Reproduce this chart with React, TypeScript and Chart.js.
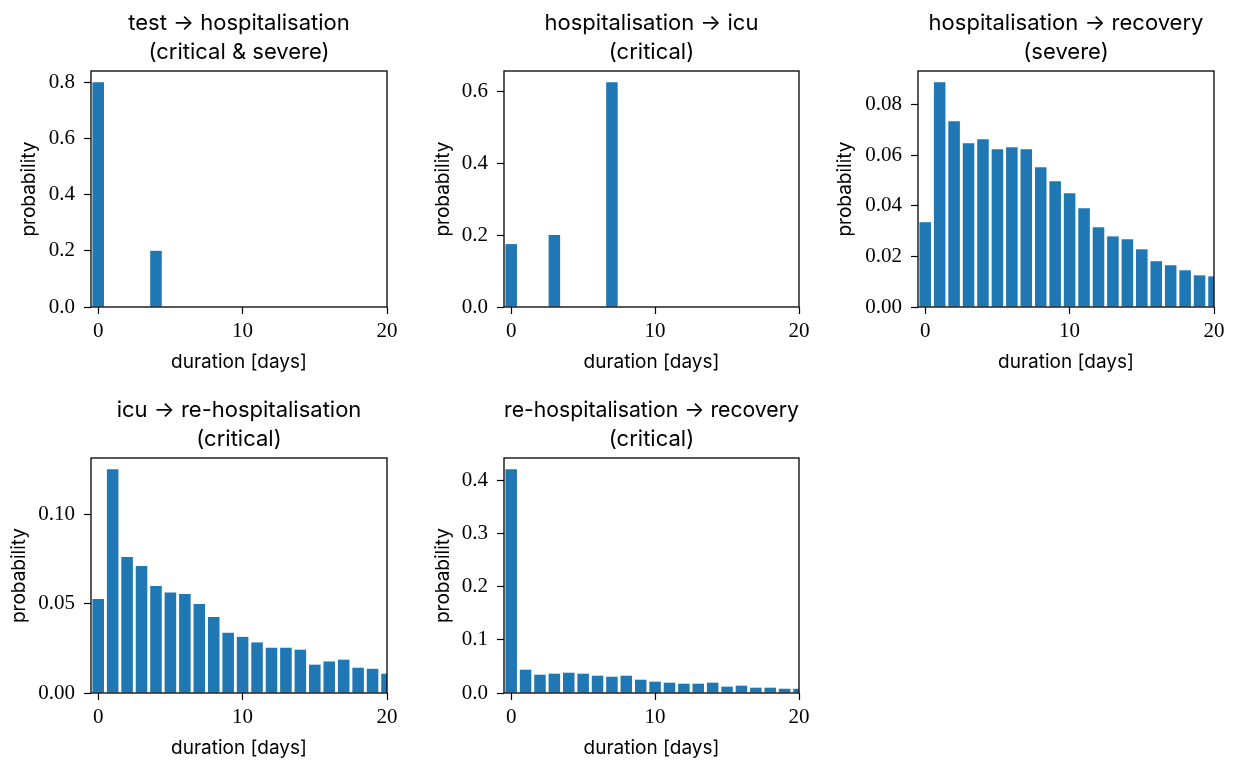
import React, { useEffect, useRef } from "react";
import { Chart, registerables } from "chart.js";

Chart.register(...registerables);

// ---------- data ----------
const days = [0, 1, 2, 3, 4, 5, 6, 7, 8, 9, 10, 11, 12, 13, 14, 15, 16, 17, 18, 19, 20];

const testToHospitalisation = [
  0.8, 0, 0, 0, 0.2, 0, 0, 0, 0, 0, 0, 0, 0, 0, 0, 0, 0, 0, 0, 0, 0,
];
const hospitalisationToIcu = [
  0.175, 0, 0, 0.2, 0, 0, 0, 0.625, 0, 0, 0, 0, 0, 0, 0, 0, 0, 0, 0, 0, 0,
];
const hospitalisationToRecovery = [
  0.0335, 0.0888, 0.0734, 0.0647, 0.0663, 0.0623, 0.0631, 0.0623, 0.0552, 0.0497, 0.0449,
  0.039, 0.0315, 0.0279, 0.0268, 0.0228, 0.0181, 0.0165, 0.0145, 0.0125, 0.0121,
];
const icuToRehospitalisation = [
  0.0528, 0.1256, 0.0763, 0.0713, 0.0601, 0.0564, 0.0556, 0.05, 0.0427, 0.0338, 0.0315,
  0.0284, 0.0254, 0.0254, 0.0243, 0.0159, 0.0177, 0.0187, 0.0142, 0.0136, 0.0108,
];
const rehospitalisationToRecovery = [
  0.4206, 0.0438, 0.0344, 0.0363, 0.0381, 0.0363, 0.0325, 0.0306, 0.0325, 0.025, 0.0213,
  0.0194, 0.0175, 0.0175, 0.0194, 0.0119, 0.0138, 0.01, 0.01, 0.008, 0.008,
];

const panelTitles = [
  ["test \u2192 hospitalisation", "(critical & severe)"],
  ["hospitalisation \u2192 icu", "(critical)"],
  ["hospitalisation \u2192 recovery", "(severe)"],
  ["icu \u2192 re-hospitalisation", "(critical)"],
  ["re-hospitalisation \u2192 recovery", "(critical)"],
];
const panelValues = [
  testToHospitalisation,
  hospitalisationToIcu,
  hospitalisationToRecovery,
  icuToRehospitalisation,
  rehospitalisationToRecovery,
];
const yTickSteps = [0.2, 0.2, 0.02, 0.05, 0.1];
const yTickDecimals = [1, 1, 2, 2, 1];
const xTickValues = [0, 10, 20];
const xLabel = "duration [days]";
const yLabel = "probability";

// ---------- layout (axes boxes in page pixels) ----------
const boxes = [
  [91, 71, 387, 307],
  [504, 71, 799, 307],
  [918, 71, 1214, 307],
  [91, 458, 387, 693],
  [504, 458, 799, 693],
];
const yAxisWidths = [77, 76, 88, 87, 76];

const SANS = "Inter, 'Open Sans', sans-serif";
const SERIF = "'Liberation Serif', 'DejaVu Serif', serif";
const BLUE = "#1f77b4";
const TOP_H = 71;
const X_H = 70;
const RIGHT_PAD = 30;

const framePlugin = {
  id: "frame",
  afterDatasetsDraw(chart: any) {
    const { ctx, chartArea } = chart;
    ctx.save();
    ctx.strokeStyle = "#000";
    ctx.lineWidth = 1.3;
    ctx.strokeRect(chartArea.left, chartArea.top, chartArea.right - chartArea.left, chartArea.bottom - chartArea.top);
    ctx.restore();
  },
};

function Panel({ idx }: { idx: number }) {
  const ref = useRef<HTMLCanvasElement | null>(null);
  const [L, T, R, B] = boxes[idx];
  const yW = yAxisWidths[idx];
  const left = L - yW;
  const top = T - TOP_H;
  const width = yW + (R - L) + RIGHT_PAD;
  const height = TOP_H + (B - T) + X_H;

  useEffect(() => {
    const vals = panelValues[idx];
    const ymax = Math.max(...vals) * 1.05;
    const chart = new Chart(ref.current as HTMLCanvasElement, {
      type: "bar",
      data: {
        datasets: [
          {
            data: days.map((d, i) => ({ x: d, y: vals[i] })),
            backgroundColor: BLUE,
            borderWidth: 0,
            barPercentage: 0.8,
            categoryPercentage: 1,
          } as any,
        ],
      },
      options: {
        animation: false,
        responsive: false,
        maintainAspectRatio: false,
        events: [],
        layout: { padding: { left: 0, right: RIGHT_PAD, top: 0, bottom: 0 } },
        plugins: {
          legend: { display: false },
          tooltip: { enabled: false },
          title: {
            display: true,
            text: panelTitles[idx],
            fullSize: false,
            color: "#000",
            font: { family: SANS, size: 22, weight: "normal", lineHeight: 1.35 },
            padding: { top: 8.2, bottom: 3.4 },
          },
        },
        scales: {
          x: {
            type: "linear",
            min: -0.5,
            max: 20,
            offset: false,
            grid: {
              offset: false,
              display: true,
              drawOnChartArea: false,
              drawTicks: true,
              tickLength: 7,
              tickColor: "#000",
              tickWidth: 1.2,
            },
            border: { display: false },
            ticks: {
              color: "#000",
              padding: 5,
              font: { family: SERIF, size: 21 },
              callback: (v: any) => String(v),
            },
            title: {
              display: true,
              text: xLabel,
              color: "#000",
              font: { family: SANS, size: 19, lineHeight: 1.2 },
              padding: { top: 0, bottom: 3.5 },
            },
            afterBuildTicks: (s: any) => {
              s.ticks = xTickValues.map((v) => ({ value: v }));
            },
            afterFit: (s: any) => {
              s.height = X_H;
              s.paddingLeft = 0;
              s.paddingRight = 0;
            },
          } as any,
          y: {
            type: "linear",
            min: 0,
            max: ymax,
            grid: {
              display: true,
              drawOnChartArea: false,
              drawTicks: true,
              tickLength: 7,
              tickColor: "#000",
              tickWidth: 1.2,
            },
            border: { display: false },
            ticks: {
              color: "#000",
              padding: 9,
              stepSize: yTickSteps[idx],
              includeBounds: false,
              font: { family: SERIF, size: 21 },
              callback: (v: any) => Number(v).toFixed(yTickDecimals[idx]),
            },
            title: {
              display: true,
              text: yLabel,
              color: "#000",
              font: { family: SANS, size: 19, lineHeight: 1.2 },
              padding: { top: 3.5, bottom: 0 },
            },
            afterFit: (s: any) => {
              s.width = yW;
              s.paddingTop = 0;
              s.paddingBottom = 0;
            },
          } as any,
        },
      },
      plugins: [framePlugin],
    });
    return () => chart.destroy();
  }, [idx]);

  return (
    <canvas
      ref={ref}
      width={width}
      height={height}
      style={{ position: "absolute", left, top, width, height }}
    />
  );
}

export default function App() {
  return (
    <div
      style={{
        position: "absolute",
        left: 0,
        top: 0,
        width: 1235,
        height: 765,
        overflow: "hidden",
        background: "#fff",
      }}
    >
      {panelValues.map((_, i) => (
        <Panel key={i} idx={i} />
      ))}
    </div>
  );
}
